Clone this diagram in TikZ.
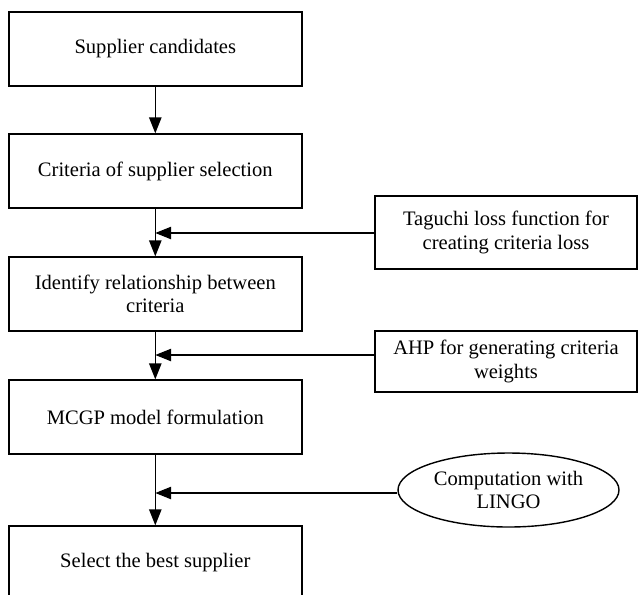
\documentclass[tikz,border=0pt]{standalone}
\usepackage{fontspec}
\setmainfont{Liberation Serif}
\usetikzlibrary{arrows.meta,shapes.geometric}
\begin{document}
\begin{tikzpicture}[line width=0.8pt, >={Triangle[length=9pt,width=7pt]},
  txt/.style={align=center,font=\fontsize{11.7}{13.3}\selectfont},
  box/.style={txt,draw,minimum width=5.86cm,minimum height=1.48cm},
  side/.style={txt,draw,minimum width=5.24cm}]
  \useasboundingbox (0,0) rectangle (12.76,-11.88);
  % main column
  \node[box] (cand) at (3.106,-0.98) {Supplier candidates};
  \node[box] (crit) at (3.106,-3.42) {Criteria of supplier selection};
  \node[box] (rel)  at (3.106,-5.88) {Identify relationship between\\criteria};
  \node[box] (mcgp) at (3.106,-8.34) {MCGP model formulation};
  \node[box] (best) at (3.106,-11.26) {Select the best supplier};
  \foreach \a/\b in {cand/crit, crit/rel, rel/mcgp, mcgp/best}
    \draw[->] (\a) -- (\b);
  % inputs on the right
  \node[side,minimum height=1.46cm] (taguchi) at (10.12,-4.65) {Taguchi loss function for\\creating criteria loss};
  \node[side,minimum height=1.22cm] (ahp) at (10.12,-7.23) {AHP for generating criteria\\weights};
  \node[txt,draw,ellipse,inner sep=0pt,minimum width=4.42cm,minimum height=1.48cm] (lingo) at (10.17,-9.8) {Computation with\\LINGO};
  \coordinate (j1) at (3.106,-4.66);
  \coordinate (j2) at (3.106,-7.1);
  \coordinate (j3) at (3.106,-9.86);
  \draw[->] (taguchi.west |- j1) -- (j1);
  \draw[->] (ahp.west |- j2) -- (j2);
  \draw[->] (lingo.west |- j3) -- (j3);
\end{tikzpicture}
\end{document}
